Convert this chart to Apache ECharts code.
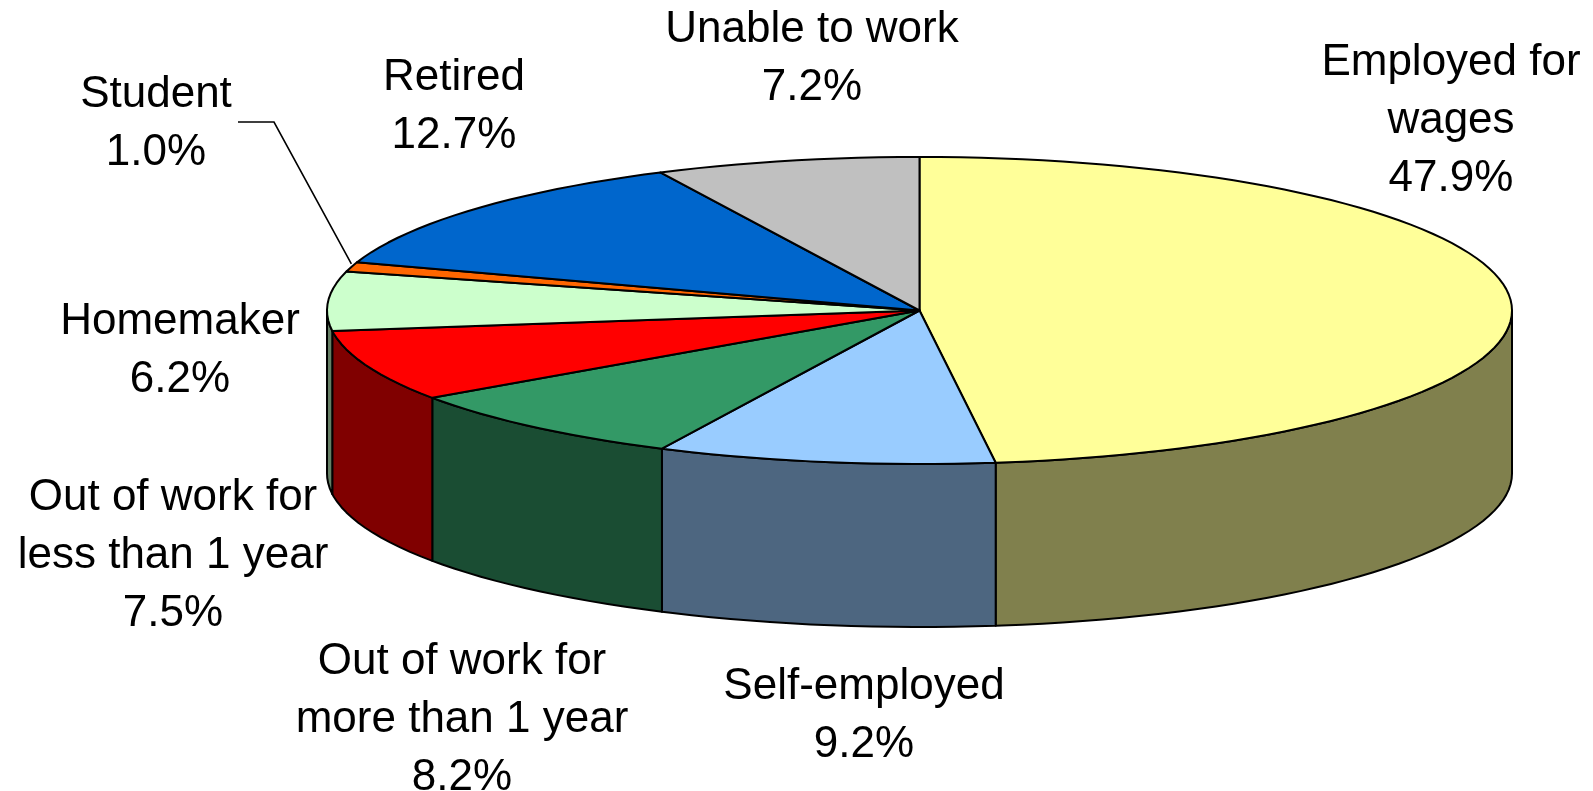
<!DOCTYPE html>
<html>
<head>
<meta charset="utf-8">
<title>Employment status</title>
<script src="https://cdn.jsdelivr.net/npm/echarts@6/dist/echarts.min.js"></script>
<style>
    html, body { margin: 0; padding: 0; background: #fff; }
    #chart { width: 1593px; height: 791px; }
</style>
</head>
<body>
<div id="chart"></div>
<script>
// chart data
const categories = ['Employed for\nwages', 'Self-employed', 'Out of work for\nmore than 1 year', 'Out of work for\nless than 1 year', 'Homemaker', 'Student', 'Retired', 'Unable to work'];
const percents = [47.9, 9.2, 8.2, 7.5, 6.2, 1.0, 12.7, 7.2];

// colours and label places
const topColors = ['#FFFF99', '#99CCFF', '#339966', '#FF0000', '#CCFFCC', '#FF6600', '#0066CC', '#C0C0C0'];
const sideColors = ['#80804D', '#4D6680', '#1A4D33', '#800000', '#668066', '#803300', '#003366', '#606060'];
const labelX = [1451, 864, 462, 173, 180, 156, 454, 812];
const labelY = [121, 716, 720, 556, 351, 124, 107, 59];

// the pie is a unit circle, the axes below squash it into the tilted ellipse
const DEPTH = 1.062;
const STEP = 2;
const LINE = { stroke: '#000', lineWidth: 2, lineJoin: 'round' };

// the printed percents are rounded and add up to 99.9
const total = percents.reduce(function (a, b) { return a + b; }, 0);
const startAngles = [];
let sum = 0;
percents.forEach(function (p) {
    startAngles.push(sum / total * 360);
    sum += p;
});

function rimPoint(api, angle, drop) {
    const rad = angle * Math.PI / 180;
    return api.coord([Math.sin(rad), Math.cos(rad) - drop]);
}

function arcPoints(api, from, to, drop) {
    const pts = [];
    for (let a = from; a < to; a += STEP) {
        pts.push(rimPoint(api, a, drop));
    }
    pts.push(rimPoint(api, to, drop));
    return pts;
}

// outer wall, only the front half of the cylinder can be seen
function renderSide(params, api) {
    const i = params.dataIndex;
    const from = Math.max(startAngles[i], 90);
    const to = Math.min(startAngles[i] + api.value(1) / total * 360, 270);
    if (to <= from) {
        return;
    }
    const pts = arcPoints(api, from, to, 0).concat(arcPoints(api, from, to, DEPTH).reverse());
    return {
        type: 'polygon',
        shape: { points: pts },
        style: Object.assign({ fill: sideColors[i] }, LINE)
    };
}

function renderTop(params, api) {
    const i = params.dataIndex;
    const from = startAngles[i];
    const to = from + api.value(1) / total * 360;
    const pts = [api.coord([0, 0])].concat(arcPoints(api, from, to, 0));
    const children = [{
        type: 'polygon',
        shape: { points: pts },
        style: Object.assign({ fill: topColors[i] }, LINE)
    }, {
        type: 'text',
        style: {
            text: categories[i] + '\n' + api.value(1).toFixed(1) + '%',
            x: labelX[i],
            y: labelY[i],
            fill: '#000',
            font: '44px "Liberation Sans", Arial, sans-serif',
            lineHeight: 58,
            align: 'center',
            verticalAlign: 'middle'
        }
    }];
    // only Student has a leader line
    if (categories[i] === 'Student') {
        children.push({
            type: 'polyline',
            shape: { points: [[238, 122], [274, 122], rimPoint(api, (from + to) / 2, -0.02)] },
            style: { stroke: '#000', lineWidth: 1.6, fill: null }
        });
    }
    return { type: 'group', children: children };
}

const rows = percents.map(function (p, i) {
    return [i, p];
});

const chart = echarts.init(document.getElementById('chart'), null, { renderer: 'canvas' });
chart.setOption({
    animation: false,
    backgroundColor: '#fff',
    grid: { left: 327, top: 157, width: 1185, height: 307 },
    xAxis: { type: 'value', min: -1, max: 1, show: false },
    yAxis: { type: 'value', min: -1, max: 1, show: false },
    series: [
        { type: 'custom', silent: true, clip: false, z: 1, renderItem: renderSide, data: rows },
        { type: 'custom', silent: true, clip: false, z: 2, renderItem: renderTop, data: rows }
    ]
});
</script>
</body>
</html>
